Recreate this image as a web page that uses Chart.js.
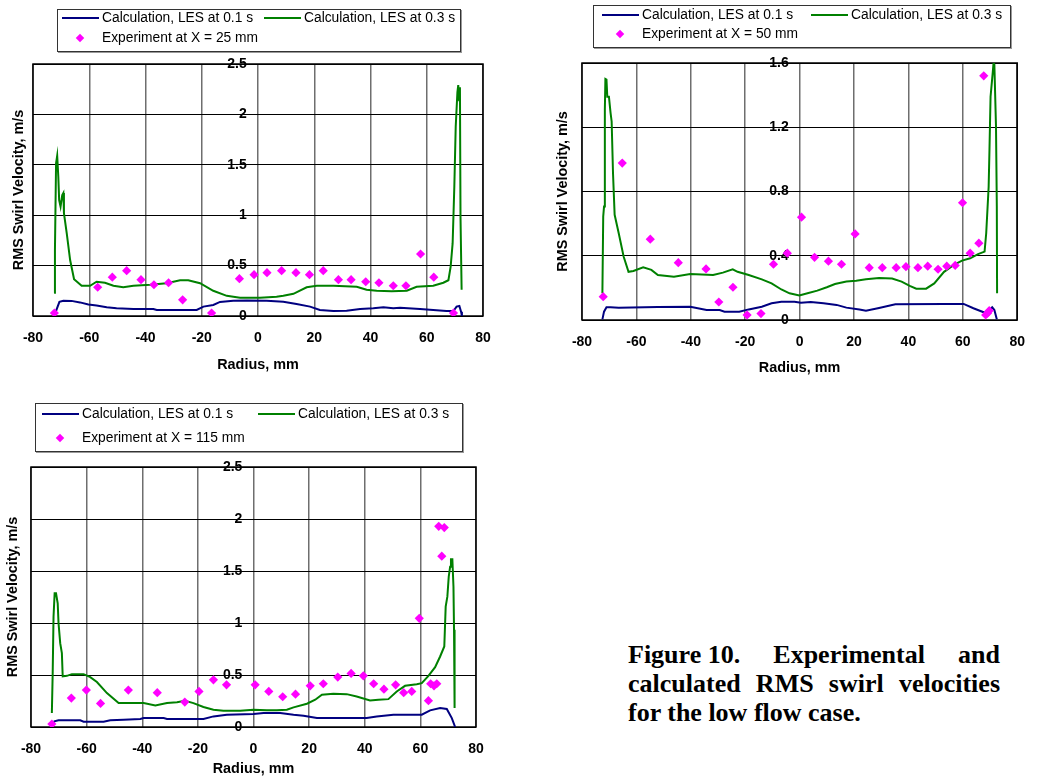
<!DOCTYPE html>
<html>
<head>
<meta charset="utf-8">
<script src="https://cdn.jsdelivr.net/npm/chart.js@4.4.1/dist/chart.umd.min.js"></script>
<style>
  body { margin: 0; background: #fff; width: 1039px; height: 778px; position: relative; overflow: hidden;
         font-family: 'Liberation Sans', Arial, sans-serif; }
  .panel { position: absolute; }
  .legend { position: absolute; box-sizing: border-box; border: 1px solid #333; box-shadow: 1px 1px 0 #999;
            background: #fff; font-size: 13.8px; color: #000; }
  .legend .sw { position: absolute; height: 2px; width: 37px; }
  .legend .dm { position: absolute; width: 6px; height: 6px; background: #ff00ff; transform: rotate(45deg); }
  .legend .tx { position: absolute; white-space: nowrap; line-height: 16px; }
  .caption { position: absolute; left: 628px; top: 640px; width: 372px; color: #000;
             font: bold 26px/29px 'Liberation Serif', 'Times New Roman', serif; }
  .caption div { text-align: justify; text-align-last: justify; }
  .caption div.last { text-align: left; text-align-last: left; }
  .caption span { display: inline-block; }
</style>
</head>
<body>
<div class="panel" style="left:0;top:0"><canvas id="c25" width="520" height="380"></canvas></div>
<div class="panel" style="left:520px;top:0"><canvas id="c50" width="519" height="380"></canvas></div>
<div class="panel" style="left:0;top:390px"><canvas id="c115" width="520" height="388"></canvas></div>
<div class="caption">
  <div><span>Figure 10.</span> Experimental and</div>
  <div>calculated RMS swirl velocities</div>
  <div class="last">for the low flow case.</div>
</div>
<script>
// axis ticks
const xTicks = [-80, -60, -40, -20, 0, 20, 40, 60, 80];
const yTicksA = [0, 0.5, 1, 1.5, 2, 2.5];
const yTicksB = [0, 0.4, 0.8, 1.2, 1.6];
const seriesLabels = ['Calculation, LES at 0.1 s', 'Calculation, LES at 0.3 s'];

// X = 25 mm
const r25a = [-72.4,-71.6,-70.6,-69.2,-66.3,-63.3,-60.3,-57.4,-53.8,-50.3,-44.3,-37.2,-36.0,-21.8,-19.4,-15.9,-13.5,-8.8,-4.0,3.1,9.0,13.7,18.5,22.0,26.8,31.5,36.3,41.0,44.6,48.1,50.5,57.6,62.3,67.0,69.5,70.6,71.6,72.2,72.5];
const v25a = [0.0,0.066,0.14,0.152,0.15,0.135,0.115,0.105,0.086,0.076,0.07,0.07,0.06,0.06,0.093,0.11,0.14,0.152,0.155,0.152,0.142,0.12,0.093,0.06,0.05,0.053,0.07,0.076,0.086,0.076,0.083,0.07,0.06,0.05,0.05,0.093,0.1,0.043,0.0];
const r25b = [-72.5,-72.2,-71.8,-71.4,-71.0,-70.7,-70.2,-69.6,-69.2,-69.0,-68.0,-66.8,-65.4,-62.7,-59.7,-57.4,-54.4,-51.4,-47.9,-44.3,-38.4,-32.5,-27.7,-24.8,-20.6,-15.9,-11.1,-6.4,0.7,6.6,9.0,12.6,17.3,20.9,26.8,35.1,38.6,42.2,47.5,52.9,56.4,62.3,65.9,67.7,68.5,69.2,69.8,70.3,70.9,71.2,71.5,71.8,72.0,72.4];
const v25b = [0.23,0.655,1.515,1.59,1.38,1.15,1.085,1.2,1.22,1.02,0.82,0.555,0.365,0.30,0.30,0.34,0.33,0.30,0.285,0.30,0.31,0.325,0.355,0.355,0.325,0.25,0.20,0.18,0.18,0.19,0.20,0.22,0.285,0.30,0.30,0.29,0.26,0.25,0.245,0.25,0.29,0.30,0.33,0.355,0.49,0.72,1.28,1.88,2.22,2.29,2.14,2.27,0.985,0.26];
const rE25 = [-72.4,-57.0,-51.8,-46.7,-41.6,-37.0,-31.8,-26.8,-16.5,-6.6,-1.4,3.2,8.4,13.5,18.3,23.2,28.6,33.1,38.3,43.0,48.1,52.6,57.8,62.5,69.5];
const vE25 = [0.03,0.285,0.385,0.45,0.36,0.31,0.33,0.16,0.03,0.37,0.41,0.43,0.45,0.43,0.41,0.45,0.36,0.36,0.34,0.33,0.30,0.30,0.615,0.385,0.03];

// X = 50 mm
const r50a = [-72.5,-71.9,-71.0,-69.5,-66.5,-52.1,-40.2,-34.2,-29.4,-27.6,-22.2,-18.7,-13.9,-10.3,-6.7,-1.9,0.5,4.1,8.8,13.6,17.2,22.0,24.4,29.2,35.2,53.1,60.3,63.9,68.6,70.8,71.6,72.5];
const v50a = [0.004,0.052,0.079,0.079,0.077,0.081,0.083,0.062,0.062,0.052,0.052,0.066,0.083,0.104,0.114,0.114,0.108,0.112,0.104,0.094,0.077,0.066,0.058,0.075,0.098,0.1,0.1,0.073,0.042,0.079,0.062,0.004];
const r50b = [-72.5,-72.2,-71.9,-71.6,-71.4,-71.0,-70.7,-70.1,-69.5,-69.1,-68.6,-68.0,-66.5,-64.7,-62.9,-61.1,-57.5,-54.5,-52.1,-46.2,-40.2,-31.8,-28.2,-24.6,-22.8,-18.7,-13.9,-10.3,-6.7,-3.7,-0.1,2.9,6.5,10.0,13.0,17.2,20.8,24.4,29.2,34.0,37.5,40.5,42.9,46.5,49.5,53.1,56.7,59.7,62.7,65.6,68.0,68.6,69.5,69.8,70.2,71.0,71.3,71.6,72.2,72.5,72.6];
const v50b = [0.166,0.644,0.706,1.31,1.50,1.496,1.39,1.39,1.29,1.236,0.914,0.655,0.54,0.395,0.30,0.305,0.328,0.312,0.28,0.27,0.287,0.28,0.295,0.316,0.30,0.28,0.253,0.228,0.19,0.166,0.152,0.166,0.183,0.204,0.224,0.239,0.245,0.253,0.262,0.258,0.239,0.212,0.195,0.195,0.228,0.30,0.343,0.37,0.384,0.41,0.426,0.54,0.83,1.06,1.39,1.54,1.6,1.59,1.205,0.706,0.166];
const rE50 = [-72.2,-65.2,-54.9,-44.6,-34.4,-29.7,-24.5,-19.3,-14.2,-9.6,-4.5,0.7,5.5,10.6,15.4,20.4,25.6,30.4,35.5,39.1,43.5,47.1,50.9,54.1,57.2,59.9,62.7,65.9,67.7,68.4,69.1,69.7];
const vE50 = [0.145,0.977,0.503,0.357,0.318,0.112,0.204,0.031,0.04,0.347,0.416,0.64,0.39,0.366,0.347,0.536,0.326,0.326,0.326,0.332,0.326,0.335,0.316,0.335,0.34,0.73,0.416,0.478,1.52,0.031,0.042,0.058];

// X = 115 mm
const r115a = [-72.5,-71.6,-70.1,-62.3,-61.1,-53.9,-51.5,-46.7,-40.7,-39.5,-32.3,-31.1,-18.0,-14.4,-9.6,0,3.6,9.6,14.4,18.0,22.8,40.7,44.3,50.3,60.5,63.5,67.1,69.5,71.3,72.5];
const v115a = [0.006,0.054,0.064,0.064,0.051,0.051,0.064,0.07,0.077,0.086,0.086,0.077,0.077,0.102,0.118,0.125,0.134,0.134,0.118,0.109,0.086,0.086,0.102,0.118,0.118,0.16,0.182,0.173,0.086,0];
const r115b = [-72.5,-72.2,-71.9,-71.5,-71.0,-70.4,-70.1,-69.5,-68.9,-68.6,-67.1,-65.3,-61.1,-58.7,-56.3,-52.7,-48.5,-39.5,-35.3,-31.1,-27.5,-24.6,-21.6,-18.0,-14.4,-10.8,-4.8,0,4.8,8.4,12.0,14.4,19.2,22.2,24.6,28.7,33.5,37.1,41.9,44.9,48.5,51.5,54.5,58.7,60.5,62.9,65.3,67.1,68.6,69.1,69.7,70.2,70.7,71.0,71.5,71.9,72.1,72.3];
const v115b = [0.134,0.518,1.06,1.285,1.285,1.19,0.997,0.806,0.71,0.486,0.492,0.508,0.508,0.48,0.432,0.326,0.23,0.23,0.208,0.23,0.237,0.253,0.23,0.192,0.166,0.157,0.157,0.166,0.16,0.16,0.166,0.189,0.224,0.262,0.31,0.32,0.316,0.294,0.256,0.262,0.268,0.342,0.396,0.412,0.422,0.492,0.575,0.678,0.774,1.157,1.253,1.445,1.541,1.614,1.614,1.349,0.934,0.182];
const rE115 = [-72.5,-65.5,-60.1,-55.0,-45.0,-34.6,-24.7,-19.6,-14.4,-9.7,0.6,5.5,10.5,15.1,20.4,25.1,30.3,35.1,39.5,43.2,46.9,51.1,54.0,56.9,59.6,62.9,63.7,64.9,65.9,66.6,68.6,67.7];
const vE115 = [0.029,0.278,0.355,0.227,0.355,0.33,0.24,0.342,0.454,0.406,0.406,0.342,0.291,0.316,0.396,0.416,0.48,0.515,0.492,0.416,0.364,0.406,0.33,0.342,1.045,0.253,0.416,0.396,0.416,1.93,1.918,1.643];

Chart.defaults.font.family = "'Liberation Sans', Arial, sans-serif";
Chart.defaults.color = '#000';

const tickFont = { size: 14, weight: 'bold' };
const titleFont = { size: 14.4, weight: 'bold' };

// black frame round the plot area
const frame = {
  id: 'frame',
  beforeDatasetsDraw(chart) {
    const a = chart.chartArea, ctx = chart.ctx;
    ctx.save();
    ctx.strokeStyle = '#000';
    ctx.lineWidth = 1.5;
    ctx.strokeRect(a.left, a.top, a.right - a.left, a.bottom - a.top);
    ctx.restore();
  }
};

function pts(r, v) {
  return r.map((x, i) => ({ x: x, y: v[i] }));
}

function build(id, d) {
  return new Chart(document.getElementById(id), {
    type: 'scatter',
    data: {
      datasets: [
        { label: seriesLabels[0], data: pts(d.ra, d.va), showLine: true, borderColor: '#000080',
          borderWidth: 2, pointRadius: 0, order: 2, yAxisID: 'y' },
        { label: seriesLabels[1], data: pts(d.rb, d.vb), showLine: true, borderColor: '#008000',
          borderWidth: 2, pointRadius: 0, order: 1, yAxisID: 'y' },
        { label: d.expLabel, data: pts(d.rE, d.vE), pointStyle: 'rectRot', pointRadius: 4.6,
          backgroundColor: '#ff00ff', borderColor: '#ff00ff', borderWidth: 0, order: 0, yAxisID: 'y' }
      ]
    },
    options: {
      responsive: false,
      animation: false,
      devicePixelRatio: 1,
      layout: { padding: { top: d.top, right: d.right, left: 0, bottom: 0 } },
      plugins: { legend: { display: false }, tooltip: { enabled: false } },
      scales: {
        x: {
          type: 'linear', position: 'bottom', min: -80, max: 80,
          afterBuildTicks: s => { s.ticks = xTicks.map(v => ({ value: v })); },
          afterFit: s => { s.height = d.xh; },
          grid: { color: '#6e6e6e', lineWidth: 1.5, drawTicks: false },
          border: { display: false },
          ticks: { padding: d.tickPad, color: '#000', font: tickFont, callback: v => String(v) },
          title: { display: true, text: 'Radius, mm', color: '#000', font: titleFont,
                   padding: { top: 0, bottom: d.xTitlePad } }
        },
        y: {
          // labels sit just left of the zero line
          type: 'linear', axis: 'y', position: { x: -4 }, min: 0, max: d.yTicks[d.yTicks.length - 1],
          afterBuildTicks: s => { s.ticks = d.yTicks.map(v => ({ value: v })); },
          grid: { color: '#000', lineWidth: 1, drawTicks: false },
          border: { display: false },
          ticks: { padding: 0, color: '#000', font: tickFont, callback: v => String(v) }
        },
        yT: {
          type: 'linear', axis: 'y', position: 'left', min: 0, max: 1,
          afterFit: s => { s.width = d.yw; },
          grid: { display: false }, border: { display: false },
          ticks: { display: false },
          title: { display: true, text: 'RMS Swirl Velocity, m/s', color: '#000', font: titleFont,
                   padding: { top: d.yTitlePad, bottom: 0 } }
        }
      }
    },
    plugins: [frame]
  });
}

// boxed legend drawn as HTML from the datasets
function legend(chart, b) {
  const el = document.createElement('div');
  el.className = 'legend';
  el.style.cssText = 'left:' + b.left + 'px;top:' + b.top + 'px;width:' + b.w + 'px;height:' + b.h + 'px';
  chart.data.datasets.forEach((ds, i) => {
    const sx = i === 1 ? b.c2 : b.c1;
    const cy = i === 2 ? b.r2 : b.r1;
    const mark = document.createElement('div');
    if (ds.showLine) {
      mark.className = 'sw';
      mark.style.cssText = 'left:' + sx + 'px;top:' + (cy - 1) + 'px;background:' + ds.borderColor;
    } else {
      mark.className = 'dm';
      mark.style.cssText = 'left:' + (sx + 15) + 'px;top:' + (cy - 3) + 'px';
    }
    el.appendChild(mark);
    const tx = document.createElement('div');
    tx.className = 'tx';
    tx.style.cssText = 'left:' + (sx + 40) + 'px;top:' + (cy - 8) + 'px';
    tx.textContent = ds.label;
    el.appendChild(tx);
  });
  document.body.appendChild(el);
}

const ch25 = build('c25', { ra: r25a, va: v25a, rb: r25b, vb: v25b, rE: rE25, vE: vE25,
  expLabel: 'Experiment at X = 25 mm', yTicks: yTicksA,
  top: 64, right: 37, yw: 33, yTitlePad: 10, xh: 64, tickPad: 14, xTitlePad: 6 });
const ch50 = build('c50', { ra: r50a, va: v50a, rb: r50b, vb: v50b, rE: rE50, vE: vE50,
  expLabel: 'Experiment at X = 50 mm', yTicks: yTicksB,
  top: 63, right: 11, yw: 62, yTitlePad: 34, xh: 60, tickPad: 14, xTitlePad: 3 });
const ch115 = build('c115', { ra: r115a, va: v115a, rb: r115b, vb: v115b, rE: rE115, vE: vE115,
  expLabel: 'Experiment at X = 115 mm', yTicks: yTicksA,
  top: 77, right: 44, yw: 31, yTitlePad: 4, xh: 51, tickPad: 14, xTitlePad: 0 });

legend(ch25, { left: 57, top: 9, w: 404, h: 43, r1: 8, r2: 28, c1: 4, c2: 206 });
legend(ch50, { left: 593, top: 5, w: 418, h: 43, r1: 9, r2: 28, c1: 8, c2: 217 });
legend(ch115, { left: 35, top: 403, w: 428, h: 49, r1: 10, r2: 34, c1: 6, c2: 222 });
</script>
</body>
</html>
